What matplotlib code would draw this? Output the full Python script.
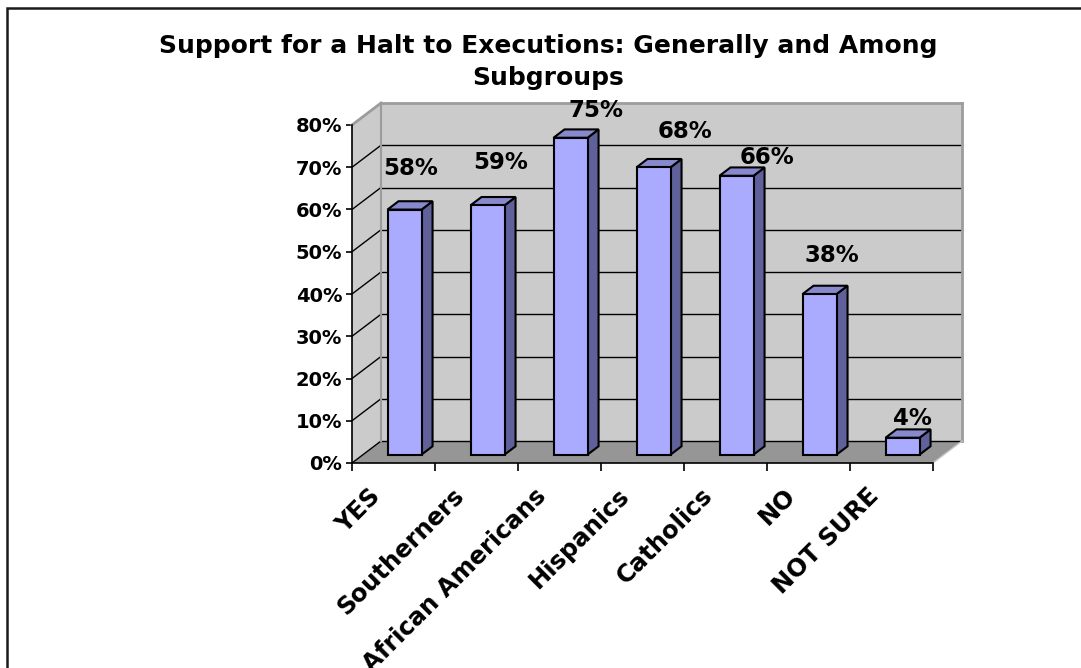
import matplotlib
matplotlib.use("Agg")
import matplotlib.pyplot as plt
from matplotlib.patches import Polygon, Rectangle
from matplotlib.lines import Line2D
from matplotlib.transforms import IdentityTransform, ScaledTranslation

# ---- data -------------------------------------------------------------
categories = ["YES", "Southerners", "African Americans", "Hispanics",
              "Catholics", "NO", "NOT SURE"]
support = [58, 59, 75, 68, 66, 38, 4]
y_ticks = [0, 10, 20, 30, 40, 50, 60, 70, 80]
y_tick_labels = [f"{t}%" for t in y_ticks]
title = "Support for a Halt to Executions: Generally and Among\nSubgroups"

# hand-placed value labels (pixel nudges from the bar's front top edge)
label_nudge_x = [6, 13, 25, 31, 30, 12, 10]
label_nudge_y = [41, 43, 27, 36, 18, 39, 19]

# ---- layout / style ---------------------------------------------------
W, H, DPI = 1081, 668, 100
DX, DY = 29, 22            # oblique depth of the 3-D box, in pixels
BAR_W = 0.41               # bar width as a fraction of a category
D0, D1 = 0.38, 0.76        # bar depth range (fraction of box depth)
WALL = "#cbcbcb"
FLOOR = "#969696"
EDGE = "#9c9c9c"
BAR_FRONT = "#aaaaff"
BAR_TOP = "#8888cc"
BAR_SIDE = "#60609a"

fig = plt.figure(figsize=(W / DPI, H / DPI), dpi=DPI)
ax = fig.add_axes([352 / W, 205 / H, 581 / W, 338 / H])
ax.set_xlim(0, len(categories))
ax.set_ylim(y_ticks[0], y_ticks[-1])
ax.patch.set_visible(False)
for s in ("top", "right"):
    ax.spines[s].set_visible(False)
for s in ("left", "bottom"):
    ax.spines[s].set_color("black")
    ax.spines[s].set_linewidth(1.2)
    ax.spines[s].set_zorder(5)

ident = IdentityTransform()


def proj(x, y, d):
    """Data point (x, y) pushed back by depth fraction d, in display pixels."""
    px, py = ax.transData.transform((x, y))
    return (px + d * DX, py + d * DY)


def face(pts, color, edge, lw=1.0, z=1):
    ax.add_patch(Polygon([proj(*p) for p in pts], closed=True,
                         transform=ident, facecolor=color, edgecolor=edge,
                         linewidth=lw, zorder=z, clip_on=False,
                         joinstyle="miter"))


def seg(p, q, color, lw=1.0, z=2):
    a, b = proj(*p), proj(*q)
    ax.add_line(Line2D([a[0], b[0]], [a[1], b[1]], transform=ident,
                       color=color, linewidth=lw, zorder=z, clip_on=False))


n = len(categories)
ymin, ymax = y_ticks[0], y_ticks[-1]

# walls and floor
face([(0, ymin, 1), (n, ymin, 1), (n, ymax, 1), (0, ymax, 1)], WALL, "none")
face([(0, ymin, 0), (0, ymax, 0), (0, ymax, 1), (0, ymin, 1)], WALL, "none")
face([(0, ymin, 0), (n, ymin, 0), (n, ymin, 1), (0, ymin, 1)], FLOOR, "none")

# gridlines on back and side walls
for t in y_ticks[:-1]:
    seg((0, t, 1), (n, t, 1), "black", 1.0)
    seg((0, t, 0), (0, t, 1), "black", 1.0)

# outer edges of the box
seg((0, ymax, 0), (0, ymax, 1), EDGE, 2.0)
seg((0, ymax, 1), (n, ymax, 1), EDGE, 2.0)
seg((n, ymax, 1), (n, ymin, 1), EDGE, 2.0)
seg((0, ymin, 1), (0, ymax, 1), EDGE, 1.5)
seg((n, ymin, 0), (n, ymin, 1), "#c8c8c8", 1.0)

# bars
for i, v in enumerate(support):
    x0 = i + (1 - BAR_W) / 2
    x1 = i + (1 + BAR_W) / 2
    face([(x1, 0, D0), (x1, v, D0), (x1, v, D1), (x1, 0, D1)],
         BAR_SIDE, "black", 1.5, 3)
    face([(x0, v, D0), (x1, v, D0), (x1, v, D1), (x0, v, D1)],
         BAR_TOP, "black", 1.5, 3)
    face([(x0, 0, D0), (x1, 0, D0), (x1, v, D0), (x0, v, D0)],
         BAR_FRONT, "black", 1.5, 4)
    ax.annotate(f"{v}%", xy=(i + 0.5, v), xycoords="data",
                xytext=(D0 * DX + label_nudge_x[i], D0 * DY + label_nudge_y[i]),
                textcoords="offset pixels", ha="center", va="center",
                fontsize=16.5, fontweight="bold", color="black", zorder=6,
                annotation_clip=False)

# y axis
ax.set_yticks(y_ticks)
ax.set_yticklabels(y_tick_labels, fontsize=14, fontweight="bold")
ax.tick_params(axis="y", length=4, width=1.2, direction="out", pad=3,
               colors="black")

# x axis: boundary ticks, labels at category centres
ax.set_xticks(range(n + 1), minor=True)
ax.tick_params(axis="x", which="minor", length=6, width=1.2,
               direction="out", colors="black")
ax.set_xticks([i + 0.5 for i in range(n)])
ax.set_xticklabels(categories, fontsize=17.5, fontweight="bold",
                   rotation=45, ha="right", va="top",
                   rotation_mode="anchor")
ax.tick_params(axis="x", which="major", length=0, pad=15)
shift = ScaledTranslation(-25 / DPI, 0, fig.dpi_scale_trans)
for lab in ax.get_xticklabels():
    lab.set_transform(lab.get_transform() + shift)

# title
fig.text(548 / W, 1 - 34 / H, title, ha="center", va="top",
         fontsize=18, fontweight="bold", linespacing=1.4)

# chart frame (top and left edges visible)
fig.add_artist(Rectangle((6.5 / W, -0.2), 1.5, 1.2 - 8 / H,
                         transform=fig.transFigure, fill=False,
                         edgecolor="#1a1a1a", linewidth=1.8, clip_on=False))

fig.savefig("out.png", dpi=DPI, facecolor="white")
